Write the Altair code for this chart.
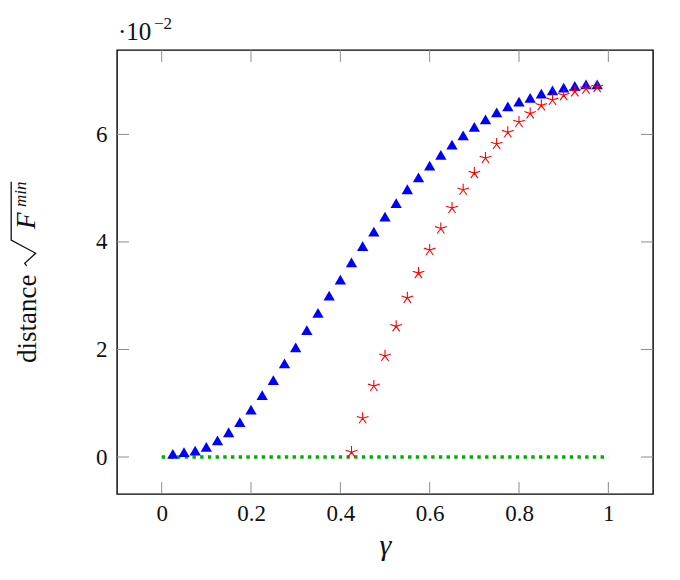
import altair as alt
import pandas as pd

# ---- data ----
gamma_tri = [0.025, 0.05, 0.075, 0.1, 0.125, 0.15, 0.175, 0.2, 0.225, 0.25,
             0.275, 0.3, 0.325, 0.35, 0.375, 0.4, 0.425, 0.45, 0.475, 0.5,
             0.525, 0.55, 0.575, 0.6, 0.625, 0.65, 0.675, 0.7, 0.725, 0.75,
             0.775, 0.8, 0.825, 0.85, 0.875, 0.9, 0.925, 0.95, 0.975]
dist_tri = [0.03, 0.06, 0.09, 0.16, 0.28, 0.43, 0.62, 0.85, 1.12, 1.40,
            1.71, 2.01, 2.33, 2.65, 2.97, 3.27, 3.59, 3.89, 4.16, 4.44,
            4.69, 4.95, 5.17, 5.39, 5.59, 5.78, 5.95, 6.11, 6.25, 6.38,
            6.49, 6.58, 6.65, 6.73, 6.79, 6.84, 6.87, 6.90, 6.90]

gamma_star = [0.425, 0.45, 0.475, 0.5, 0.525, 0.55, 0.575, 0.6, 0.625, 0.65,
              0.675, 0.7, 0.725, 0.75, 0.775, 0.8, 0.825, 0.85, 0.875, 0.9,
              0.925, 0.95, 0.975]
dist_star = [0.09, 0.72, 1.32, 1.88, 2.43, 2.96, 3.42, 3.85, 4.25, 4.63,
             4.97, 5.28, 5.56, 5.82, 6.04, 6.23, 6.39, 6.54, 6.64, 6.73,
             6.80, 6.85, 6.88]

gamma_zero = [0.0, 1.0]
dist_zero = [0.0, 0.0]

x_ticks = [0, 0.2, 0.4, 0.6, 0.8, 1.0]
y_ticks = [0, 2, 4, 6]
x_domain = [-0.1, 1.1]
y_domain = [-0.688, 7.57]

W, H = 536, 444
TL = 12
FONT = "Liberation Serif"
TXT = "#111111"
TICK_COLOR = "#8c8c8c"

tri = pd.DataFrame({"g": gamma_tri, "d": dist_tri})
star = pd.DataFrame({"g": gamma_star, "d": dist_star})
zero = pd.DataFrame({"g": gamma_zero, "d": dist_zero})
xt = pd.DataFrame({"v": x_ticks})
yt = pd.DataFrame({"v": y_ticks})

xs = alt.Scale(domain=x_domain, nice=False, zero=False)
ys = alt.Scale(domain=y_domain, nice=False, zero=False)

x_axis = alt.Axis(values=x_ticks, labelExpr="format(datum.value, '~g')",
                  grid=False, ticks=False, domain=False, labelFont=FONT,
                  labelFontSize=23, labelColor=TXT, labelPadding=8,
                  title="γ", titleFont=FONT, titleFontSize=30,
                  titleFontStyle="italic", titleFontWeight="normal",
                  titleColor=TXT, titlePadding=5)
y_axis = alt.Axis(values=y_ticks, format="d", grid=False, ticks=False,
                  domain=False, labelFont=FONT, labelFontSize=23,
                  labelColor=TXT, labelPadding=10, title=None)

green = alt.Chart(zero).mark_line(color="#00b000", strokeWidth=3.4,
                                  strokeDash=[3.4, 4.3], clip=True).encode(
    x=alt.X("g:Q", scale=xs, axis=x_axis),
    y=alt.Y("d:Q", scale=ys, axis=y_axis),
)

tri_path = "M0,-1L0.866,0.5L-0.866,0.5Z"
blue = alt.Chart(tri).mark_point(shape=tri_path, filled=True, color="#0000ff",
                                 size=170, opacity=1).encode(
    x=alt.X("g:Q", scale=xs), y=alt.Y("d:Q", scale=ys))

star_path = ("M0,0L0,-1M0,0L0.951,-0.309M0,0L0.588,0.809"
             "M0,0L-0.588,0.809M0,0L-0.951,-0.309")
red = alt.Chart(star).mark_point(shape=star_path, filled=False,
                                 color="#ff0000", strokeWidth=1.1, size=150,
                                 opacity=1).encode(
    x=alt.X("g:Q", scale=xs), y=alt.Y("d:Q", scale=ys))

bottom_ticks = alt.Chart(xt).mark_rule(color=TICK_COLOR, strokeWidth=1).encode(
    x=alt.X("v:Q", scale=xs), y=alt.value(H), y2=alt.value(H - TL))
top_ticks = alt.Chart(xt).mark_rule(color=TICK_COLOR, strokeWidth=1).encode(
    x=alt.X("v:Q", scale=xs), y=alt.value(0), y2=alt.value(TL))
left_ticks = alt.Chart(yt).mark_rule(color=TICK_COLOR, strokeWidth=1).encode(
    y=alt.Y("v:Q", scale=ys), x=alt.value(0), x2=alt.value(TL))
right_ticks = alt.Chart(yt).mark_rule(color=TICK_COLOR, strokeWidth=1).encode(
    y=alt.Y("v:Q", scale=ys), x=alt.value(W), x2=alt.value(W - TL))


def label(text, x, y, size, angle=0, style="normal", align="left"):
    return alt.Chart(pd.DataFrame({"t": [text]})).mark_text(
        font=FONT, fontSize=size, fontStyle=style, color=TXT, align=align,
        baseline="alphabetic", angle=angle).encode(
        text="t:N", x=alt.value(x), y=alt.value(y))


# exponent marker above the plot: ·10^-2
exp_main = label("·10", 1, -10, 25)
exp_sup = label("−2", 37, -21, 17)

# y title: distance sqrt(F^min), rotated
BX = -81  # baseline of rotated title, relative to the plot's left edge
yt_dist = label("distance", BX, 313, 27, angle=270)
yt_F = label("F", BX - 1, 179, 27, angle=270, style="italic")
yt_min = label("min", BX - 10.5, 157, 17, angle=270, style="italic")
# radical sign with its vinculum (drawn as a glyph path, 1 unit = 1 px)
radical_path = "M-24.5,-71.6L-24.5,-13.3L0,0L-11,10L-9,12.5"
radical = alt.Chart(pd.DataFrame({"t": [0]})).mark_point(
    shape=radical_path, filled=False, color=TXT, strokeWidth=1.3, size=4,
    opacity=1).encode(x=alt.value(BX - 0.3), y=alt.value(203.3))

chart = alt.layer(
    green, bottom_ticks, top_ticks, left_ticks, right_ticks, blue, red,
    exp_main, exp_sup, yt_dist, yt_F, yt_min, radical
).properties(
    width=W, height=H,
    autosize=alt.AutoSizeParams(type="none"),
    padding={"left": 109, "top": 42, "right": 19, "bottom": 78},
).configure(
    background="white"
).configure_view(
    stroke="black", strokeWidth=1.4
)

chart.save("out.html", embed_options={"renderer": "svg", "actions": False})
